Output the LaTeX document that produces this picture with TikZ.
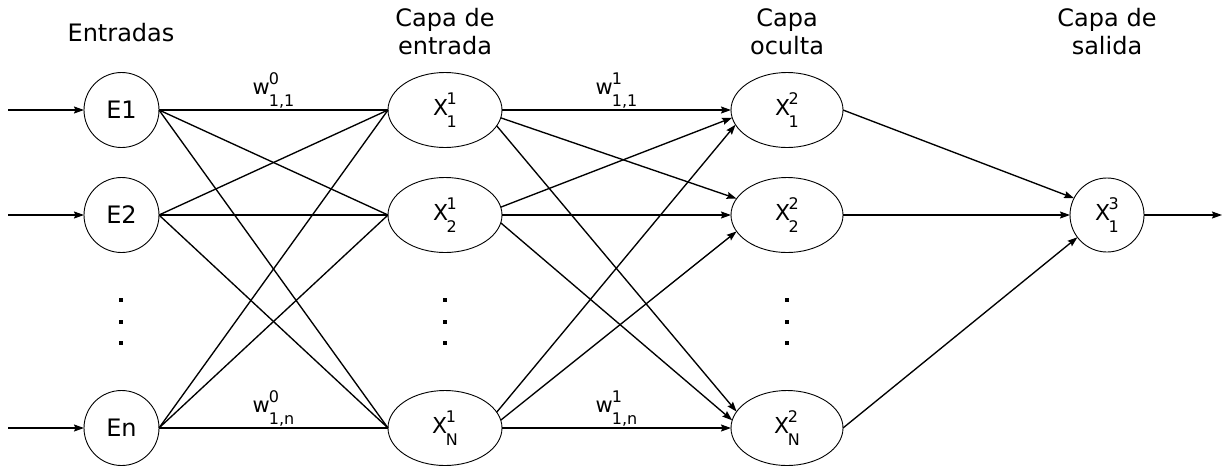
\documentclass[tikz,border=0pt]{standalone}
\usepackage{fontspec}
\setmainfont{DejaVu Sans}
\usetikzlibrary{arrows.meta,shapes.geometric}
\newcommand\scriptsz{\fontsize{16}{16}\selectfont}
\newcommand\xsym[3]{X\kern-1.5pt\raisebox{11pt}{\rlap{\scriptsz #2}}\raisebox{-11.5pt}{\scriptsz #3}}
\newcommand\wsym[3]{{\fontsize{21}{21}\selectfont w}\kern-1pt\raisebox{10pt}{\rlap{\scriptsz #2}}\raisebox{-12pt}{\scriptsz #3}}
\begin{document}
\begin{tikzpicture}[x=1pt,y=-1pt,
  every node/.style={inner sep=0pt, outer sep=0pt},
  neuron/.style={circle, draw, line width=0.9pt, minimum size=75pt, font=\fontsize{24}{24}\selectfont},
  hid/.style={ellipse, draw, line width=0.9pt, minimum width=114pt, minimum height=75pt, font=\fontsize{22}{22}\selectfont},
  title/.style={align=center, anchor=south, font=\fontsize{24}{28}\selectfont},
  conn/.style={line width=1.35pt},
  arr/.style={line width=1.35pt, -{Stealth[length=10pt,width=7pt,inset=1.5pt]}},
  dotm/.style={rectangle, fill, minimum size=4.5pt},
  wlab/.style={anchor=base, yshift=16pt}]
\useasboundingbox (0,0) rectangle (1228,467);

% titles
\node[title] (t0) at (121,42) {Entradas};
\node[title] (t1) at (445,55) {Capa de\\entrada};
\node[title] (t2) at (787,55) {Capa\\oculta};
\node[title] (t3) at (1107,55) {Capa de\\salida};

% inputs
\node[neuron] (E1) at (121.5,110) {E1};
\node[neuron] (E2) at (121.5,215) {E2};
\node[neuron] (En) at (121.5,428) {En};

% input layer
\node[hid] (X11) at (445,110) {\xsym{X}{1}{1}};
\node[hid] (X12) at (445,215) {\xsym{X}{1}{2}};
\node[hid] (X1N) at (445,428) {\xsym{X}{1}{N}};

% hidden layer
\node[hid, minimum width=112pt] (X21) at (787,110) {\xsym{X}{2}{1}};
\node[hid, minimum width=112pt] (X22) at (787,215) {\xsym{X}{2}{2}};
\node[hid, minimum width=112pt] (X2N) at (787,428) {\xsym{X}{2}{N}};

% output
\node[neuron, minimum size=74pt, font=\fontsize{22}{22}\selectfont] (X3) at (1107,215) {\xsym{X}{3}{1}};

% dots
\foreach \x/\c in {121/a,445/b,787/c}{
  \node[dotm] (dot\c1) at (\x,300) {};
  \node[dotm] (dot\c2) at (\x,322) {};
  \node[dotm] (dot\c3) at (\x,343) {};
}

% input arrows
\coordinate (in1) at (8,110);
\coordinate (in2) at (8,215);
\coordinate (inn) at (8,428);
\coordinate (out) at (1222,215);
\draw[arr] (in1) -- (E1.west);
\draw[arr] (in2) -- (E2.west);
\draw[arr] (inn) -- (En.west);
\draw[arr] (X3.east) -- (out);

% layer 1 (no arrows)
\draw[conn] (E1.east) -- node[wlab] (w0a) {\wsym{w}{0}{1,1}} (X11.west);
\draw[conn] (E1.east) -- (X12.west);
\draw[conn] (E1.east) -- (X1N.west);
\draw[conn] (E2.east) -- (X11.west);
\draw[conn] (E2.east) -- (X12.west);
\draw[conn] (E2.east) -- (X1N.west);
\draw[conn] (En.east) -- (X11.west);
\draw[conn] (En.east) -- (X12.west);
\draw[conn] (En.east) -- node[wlab] (w0b) {\wsym{w}{0}{1,n}} (X1N.west);

% layer 2
\draw[arr] (X11.east) -- node[wlab] (w1a) {\wsym{w}{1}{1,1}} (X21.west);
\draw[arr] (X11.-8) -- (X22.162);
\draw[arr] (X11.-17) -- (X2N.162);
\draw[arr] (X12.8) -- (X21.-172);
\draw[arr] (X12.east) -- (X22.west);
\draw[arr] (X12.-8) -- (X2N.172);
\draw[arr] (X1N.17) -- (X21.-164);
\draw[arr] (X1N.8) -- (X22.-162);
\draw[arr] (X1N.east) -- node[wlab] (w1b) {\wsym{w}{1}{1,n}} (X2N.west);

% layer 3
\draw[arr] (X21.east) -- (X3.153);
\draw[arr] (X22.east) -- (X3.west);
\draw[arr] (X2N.east) -- (X3.217);
\end{tikzpicture}
\end{document}
